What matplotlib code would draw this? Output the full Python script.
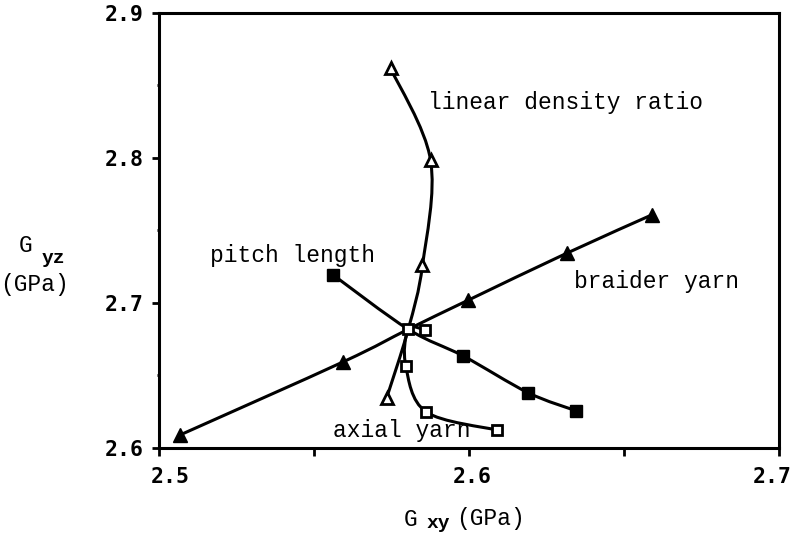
import numpy as np
import matplotlib
matplotlib.use("Agg")
import matplotlib.pyplot as plt
import matplotlib.transforms as mtransforms
from matplotlib.path import Path
from matplotlib.patches import PathPatch
from matplotlib.ticker import MultipleLocator

# Shear moduli (GPa) for each parameter sweep; all sweeps pass through the base design
linear_density_x = [2.5747, 2.5876, 2.5850, 2.5804, 2.5734]
linear_density_y = [2.8619, 2.7986, 2.7260, 2.6819, 2.6343]

braider_x = [2.5068, 2.5595, 2.5804, 2.5998, 2.6315, 2.6589]
braider_y = [2.6090, 2.6595, 2.6819, 2.7020, 2.7343, 2.7607]

pitch_x = [2.5562, 2.5804, 2.5982, 2.6191, 2.6345]
pitch_y = [2.7193, 2.6819, 2.6634, 2.6381, 2.6257]

axial_x = [2.5858, 2.5804, 2.5796, 2.5861, 2.6089]
axial_y = [2.6814, 2.6819, 2.6566, 2.6250, 2.6124]

x_ticks = [2.5, 2.6, 2.7]
y_ticks = [2.6, 2.7, 2.8, 2.9]

FONT = "Liberation Mono"
TICKFONT = "DejaVu Sans Mono"
FS = 16.5

fig = plt.figure(figsize=(7.94, 5.34), dpi=100)
ax = fig.add_axes([159 / 794, 1 - 448 / 534, 620 / 794, 435 / 534])
ax.set_xlim(2.5, 2.7)
ax.set_ylim(2.6, 2.9)


def smooth_curve(xs, ys):
    # Catmull-Rom through the points, worked out in screen units
    sx, sy = 3100.0, 1450.0
    p = np.column_stack([(np.array(xs) - 2.5) * sx, (np.array(ys) - 2.6) * sy])
    n = len(p)
    verts = [p[0]]
    codes = [Path.MOVETO]
    for i in range(n - 1):
        p0 = p[max(i - 1, 0)]
        p1 = p[i]
        p2 = p[i + 1]
        p3 = p[min(i + 2, n - 1)]
        c1 = p1 + (p2 - p0) / 6.0
        c2 = p2 - (p3 - p1) / 6.0
        verts += [c1, c2, p2]
        codes += [Path.CURVE4] * 3
    verts = np.array(verts)
    verts[:, 0] = verts[:, 0] / sx + 2.5
    verts[:, 1] = verts[:, 1] / sy + 2.6
    return Path(verts, codes)


for xs, ys in [(linear_density_x, linear_density_y), (braider_x, braider_y),
               (pitch_x, pitch_y), (axial_x, axial_y)]:
    ax.add_patch(PathPatch(smooth_curve(xs, ys), fill=False, lw=2.2,
                           edgecolor="black", capstyle="round", zorder=2))

# markers (the shared base point carries the open square of the axial sweep)
ax.plot(linear_density_x, linear_density_y, ls="none", marker="^", ms=9,
        mfc="white", mec="black", mew=2, markevery=[0, 1, 2, 4], zorder=3)
ax.plot(braider_x, braider_y, ls="none", marker="^", ms=10,
        mfc="black", mec="black", markevery=[0, 1, 3, 4, 5], zorder=3)
ax.plot(pitch_x, pitch_y, ls="none", marker="s", ms=9,
        mfc="black", mec="black", markevery=[0, 2, 3, 4], zorder=3)
ax.plot(axial_x, axial_y, ls="none", marker="s", ms=7.5,
        mfc="white", mec="black", mew=2, zorder=4)

txt = dict(family=FONT, fontsize=FS, color="black", va="center", ha="left")
ax.text(2.5868, 2.8386, "linear density ratio", **txt)
ax.text(2.5165, 2.7331, "pitch length", **txt)
ax.text(2.6339, 2.7145, "braider yarn", **txt)
ax.text(2.5561, 2.6124, "axial yarn", **txt)

for s in ax.spines.values():
    s.set_linewidth(2.2)

ax.set_xticks(x_ticks)
ax.set_yticks(y_ticks)
ax.xaxis.set_minor_locator(MultipleLocator(0.05))
ax.yaxis.set_minor_locator(MultipleLocator(0.05))
ax.tick_params(axis="x", which="major", direction="out", length=6, width=2, pad=8)
ax.tick_params(axis="x", which="minor", direction="out", length=6, width=2)
ax.tick_params(axis="y", which="major", direction="out", length=5, width=2, pad=6)
ax.tick_params(axis="y", which="minor", direction="out", length=1.5, width=2)
ax.set_xticklabels([f"{v:.1f}" for v in x_ticks], family=TICKFONT,
                   fontsize=15.5, weight="bold")
ax.set_yticklabels([f"{v:.1f}" for v in y_ticks], family=TICKFONT,
                   fontsize=15.5, weight="bold")

# nudge the x labels sideways so the last one stays on the canvas
for lbl, dx in zip(ax.get_xticklabels(), [11, 3, -7]):
    lbl.set_transform(lbl.get_transform() +
                      mtransforms.ScaledTranslation(dx / 100, 0, fig.dpi_scale_trans))


def px(x, y):
    return x / 794, 1 - y / 534


# axis titles with bold subscripts
lab = dict(family=FONT, fontsize=FS, color="black", ha="left", va="center")
sub = dict(family=FONT, fontsize=14, color="black", ha="left", va="center",
           weight="bold")
fig.text(*px(19, 246), "G", **lab)
fig.text(*px(42, 258), "yz", **sub)
fig.text(*px(0, 285), "(GPa)", **lab)

fig.text(*px(404, 519), "G", **lab)
fig.text(*px(427, 523), "xy", **sub)
fig.text(*px(456, 519), "(GPa)", **lab)

fig.savefig("out.png", dpi=100)
